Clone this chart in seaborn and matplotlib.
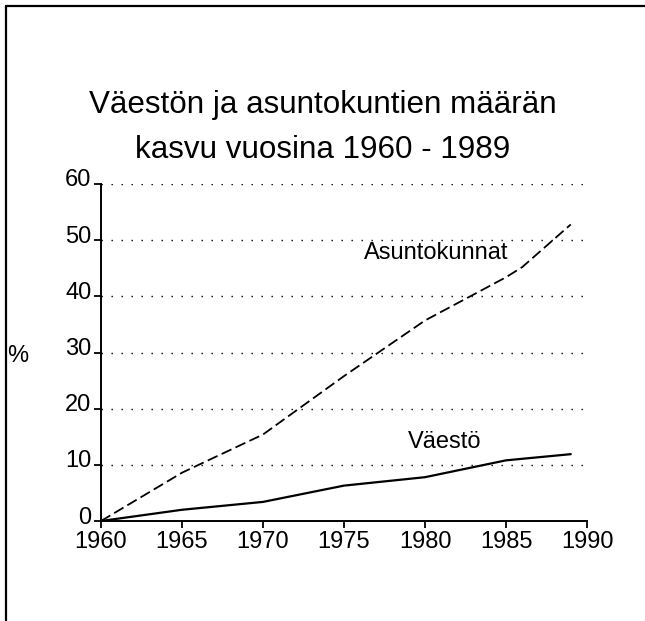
import matplotlib
matplotlib.use("Agg")
import matplotlib.pyplot as plt
from matplotlib.lines import Line2D
from matplotlib.transforms import ScaledTranslation
import seaborn as sns
import pandas as pd

# Data (growth in %, base year 1960)
years_asunto = [1960, 1965, 1970, 1975, 1980, 1985, 1986, 1989]
asuntokunnat = [0, 8.6, 15.4, 25.8, 35.7, 43.4, 45.2, 52.8]

years_vaesto = [1960, 1965, 1970, 1975, 1976, 1980, 1985, 1989]
vaesto = [0, 2.0, 3.4, 6.3, 6.6, 7.8, 10.8, 11.9]

x_ticks = [1960, 1965, 1970, 1975, 1980, 1985, 1990]
y_ticks = [0, 10, 20, 30, 40, 50, 60]

df_a = pd.DataFrame({"vuosi": years_asunto, "kasvu": asuntokunnat})
df_v = pd.DataFrame({"vuosi": years_vaesto, "kasvu": vaesto})

sns.set_style("ticks")
plt.rcParams["font.family"] = ["Liberation Sans", "DejaVu Sans"]

fig = plt.figure(figsize=(6.45, 6.21), dpi=100)
ax = fig.add_axes([101 / 645, 1 - 521 / 621, 486 / 645, 337 / 621])

# dotted horizontal grid
for y in y_ticks[1:]:
    ax.axhline(y, color="black", lw=1.0, linestyle=(0, (1, 6.2)), zorder=1)

sns.lineplot(data=df_a, x="vuosi", y="kasvu", ax=ax, color="black",
             lw=1.3, linestyle=(0, (6, 2.5)), zorder=3)
sns.lineplot(data=df_v, x="vuosi", y="kasvu", ax=ax, color="black",
             lw=1.6, zorder=3)

ax.set_xlim(1960, 1990)
ax.set_ylim(0, 60)
ax.set_xticks(x_ticks)
ax.set_yticks(y_ticks)
ax.tick_params(axis="both", direction="out", length=5, width=1.3,
               labelsize=17, color="black", labelcolor="black", pad=2)
# y labels sit a little above their tick marks in the original
shift = ScaledTranslation(0, 6 / 100, fig.dpi_scale_trans)
for lab in ax.get_yticklabels():
    lab.set_transform(lab.get_transform() + shift)

for s in ["top", "right"]:
    ax.spines[s].set_visible(False)
for s in ["left", "bottom"]:
    ax.spines[s].set_color("black")
    ax.spines[s].set_linewidth(1.4)

ax.set_xlabel("")
ax.set_ylabel("%", rotation=0, fontsize=17, color="black", va="center")
ax.yaxis.set_label_coords(-0.172, 0.49)

ax.text(1980.7, 47.7, "Asuntokunnat", ha="center", va="center",
        fontsize=17, color="black")
ax.text(1981.2, 14.1, "Väestö", ha="center", va="center",
        fontsize=17, color="black")

fig.text(0.5, 1 - 113 / 621, "Väestön ja asuntokuntien määrän",
         ha="center", va="baseline", fontsize=22.6, color="black")
fig.text(0.5, 1 - 158 / 621, "kasvu vuosina 1960 - 1989",
         ha="center", va="baseline", fontsize=22.6, color="black")

# page border (top and left edges of the scan)
fig.add_artist(Line2D([6 / 645, 1], [1 - 6 / 621, 1 - 6 / 621],
                      transform=fig.transFigure, color="black", lw=1.6))
fig.add_artist(Line2D([6 / 645, 6 / 645], [0, 1 - 6 / 621],
                      transform=fig.transFigure, color="black", lw=1.6))

fig.savefig("out.png", dpi=100)
